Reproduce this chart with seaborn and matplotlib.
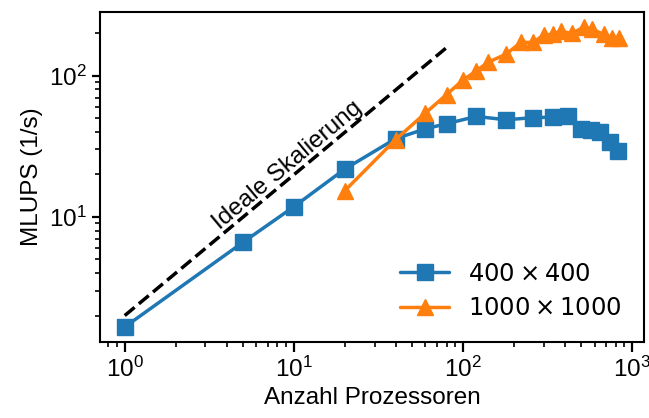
import matplotlib
matplotlib.use("Agg")
import matplotlib.pyplot as plt
import seaborn as sns
import pandas as pd

# Data
proc_400 = [1, 5, 10, 20, 40, 60, 80, 120, 180, 260, 340, 420, 500, 570, 650, 740, 820]
mlups_400 = [1.66, 6.6, 11.8, 21.8, 35.8, 42, 45.7, 51.4, 48.7, 50.4, 50.8, 52.2, 42, 41, 39.9, 33.9, 29.3]

proc_1000 = [20, 40, 60, 80, 100, 120, 140, 180, 220, 260, 300, 340, 380, 440, 520, 580, 680, 760, 840]
mlups_1000 = [15.3, 35.3, 54.3, 73.5, 93, 108, 124, 142, 172, 172, 194, 196, 207, 199, 221, 213, 196, 186, 186]

ideal_x = [1, 80]
ideal_y = [2.0, 158]

label_400 = r"$400 \times 400$"
label_1000 = r"$1000 \times 1000$"
ideal_label = "Ideale Skalierung"
xlabel = "Anzahl Prozessoren"
ylabel = "MLUPS (1/s)"

sns.set_style("ticks")
plt.rcParams["font.family"] = ["Liberation Sans", "DejaVu Sans"]
FS = 17.5
plt.rcParams.update({
    "font.size": FS,
    "axes.labelsize": FS,
    "xtick.labelsize": FS,
    "ytick.labelsize": FS,
    "legend.fontsize": FS,
    "text.color": "black",
    "axes.labelcolor": "black",
    "axes.linewidth": 1.5,
    "axes.edgecolor": "black",
    "xtick.color": "black",
    "ytick.color": "black",
    "xtick.labelcolor": "black",
    "ytick.labelcolor": "black",
    "xtick.major.size": 7,
    "ytick.major.size": 6,
    "xtick.minor.size": 3.8,
    "ytick.minor.size": 3.6,
    "xtick.major.width": 1.6,
    "ytick.major.width": 1.6,
    "xtick.minor.width": 1.2,
    "ytick.minor.width": 1.2,
    "mathtext.fontset": "dejavusans",
})

df400 = pd.DataFrame({"x": proc_400, "y": mlups_400})
df1000 = pd.DataFrame({"x": proc_1000, "y": mlups_1000})
dfideal = pd.DataFrame({"x": ideal_x, "y": ideal_y})

fig = plt.figure(figsize=(6.49, 4.18), dpi=100)
ax = fig.add_axes([100/649, 1 - 342/418, (644-100)/649, (342-12)/418])

blue = "#1f77b4"
orange = "#ff7f0e"

sns.lineplot(data=dfideal, x="x", y="y", ax=ax, color="black", linestyle="--",
             linewidth=2.5, legend=False)
sns.lineplot(data=df400, x="x", y="y", ax=ax, color=blue, marker="s",
             markersize=12, markeredgecolor=blue, markeredgewidth=1,
             linewidth=2.5, label=label_400)
sns.lineplot(data=df1000, x="x", y="y", ax=ax, color=orange, marker="^",
             markersize=11.5, markeredgecolor=orange, markeredgewidth=1,
             linewidth=2.5, label=label_1000)

ax.set_xscale("log")
ax.set_yscale("log")
ax.set_xlabel(xlabel, color="black")
ax.set_ylabel(ylabel, color="black")

ax.text(9.17, 23.2, ideal_label, rotation=40, ha="center", va="center",
        rotation_mode="anchor", fontsize=FS, color="black")

leg = ax.legend(loc="lower right", frameon=False)
for t in leg.get_texts():
    t.set_color("black")

fig.savefig("out.png", dpi=100)
